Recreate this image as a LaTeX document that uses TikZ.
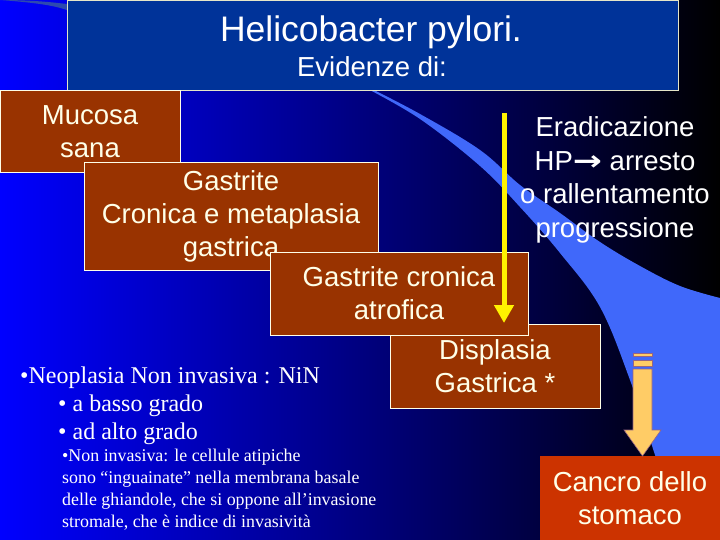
\documentclass[tikz,border=0pt]{standalone}
\usepackage{fontspec}
\setmainfont{Liberation Sans}
\newfontfamily\seriffont{Liberation Serif}
\newfontfamily\arrowfont{DejaVu Sans}
\usetikzlibrary{arrows.meta}
\definecolor{bgL}{RGB}{0,0,255}
\definecolor{bgM}{RGB}{0,0,205}
\definecolor{swoosh}{RGB}{64,104,250}
\definecolor{titlebg}{RGB}{0,51,153}
\definecolor{brown}{RGB}{153,51,0}
\definecolor{cancer}{RGB}{204,51,0}
\definecolor{cream}{RGB}{255,255,232}
\definecolor{orangearrow}{RGB}{255,204,102}
\definecolor{arrowedge}{RGB}{150,100,130}
\tikzset{
  box/.style={draw=cream, line width=1pt, fill=brown, text=cream, align=center, inner sep=0pt,
    font=\fontsize{27.5}{33}\selectfont},
  bigserif/.style={anchor=base west, inner sep=0pt, text=white, font=\seriffont\fontsize{24}{28}\selectfont},
  smallserif/.style={anchor=base west, inner sep=0pt, text=white, font=\seriffont\fontsize{17.9}{22}\selectfont},
}
\begin{document}
\begin{tikzpicture}[x=1pt,y=-1pt]
\useasboundingbox (0,0) rectangle (720,540);
% background
\shade[left color=bgL, middle color=bgM, right color=black] (0,0) rectangle (720,540);
% swoosh
\fill[swoosh!70!black] (0,0) .. controls (40,3) and (55,6) .. (67,10) -- (67,4) .. controls (50,2) and (30,0) .. (0,0) -- cycle;
\fill[swoosh] plot[smooth, tension=0.6] coordinates {(366,86) (420,114) (480,150) (520,185) (560,213) (600,242) (640,266) (680,286) (720,298)}
  -- (720,540) -- (682,540)
  -- plot[smooth, tension=0.6] coordinates {(682,540) (655,455) (630,380) (600,307) (560,253) (520,207) (480,166) (420,119) (366,88)} -- cycle;
% title box
\node[draw={rgb,255:red,230;green,230;blue,200}, line width=0.8pt, fill=titlebg, minimum width=611pt, minimum height=90pt, inner sep=0pt] (title) at (372.5,45) {};
\node[text=white, font=\fontsize{35.5}{40}\selectfont, anchor=base, inner sep=0pt] (t1) at (371,42) {Helicobacter pylori.};
\node[text=white, font=\fontsize{27.5}{30}\selectfont, anchor=base, inner sep=0pt] (t2) at (372,77) {Evidenze di:};
% boxes
\node[box, minimum width=180pt, minimum height=82pt] (mucosa) at (90,132) {Mucosa\\sana};
\node[box, minimum width=294pt, minimum height=107pt] (gastrite) at (231,216.5) {Gastrite\\Cronica e metaplasia\\gastrica};
\node[box, minimum width=210pt, minimum height=84pt] (displasia) at (495,366) {Displasia\\Gastrica *};
\node[box, minimum width=258pt, minimum height=83pt] (atrofica) at (399,293.5) {Gastrite cronica\\atrofica};
\node[box, draw=none, fill=cancer, minimum width=180pt, minimum height=84pt] (cancro) at (630,498) {Cancro dello\\stomaco};
% right text
\node[text=white, align=center, inner sep=0pt, font=\fontsize{27.5}{33.6}\selectfont] (erad) at (615,180) {Eradicazione\\HP{\arrowfont\bfseries\fontsize{24}{30}\selectfont\scalebox{1.45}[1.15]{→}} arresto\\o rallentamento\\progressione};
% yellow arrow
\coordinate (ya) at (504,113);
\coordinate (yb) at (504,323);
\draw[yellow, line width=5pt, -{Triangle[width=19pt,length=18pt]}] (ya) -- (yb);
% orange block arrow
\begin{scope}[fill=orangearrow, draw=arrowedge, line width=0.6pt]
\filldraw (633,353) rectangle (652,356.5);
\filldraw (633,360) rectangle (652,366);
\filldraw (633,369) -- (652,369) -- (652,430) -- (661,430) -- (642.5,456) -- (624,430) -- (633,430) -- cycle;
\end{scope}
% left text
\node[bigserif] (n1) at (20,383) {\textbullet Neoplasia Non invasiva : NiN};
\node[bigserif] (n2) at (58,411) {\textbullet\ a basso grado};
\node[bigserif] (n3) at (58,439) {\textbullet\ ad alto grado};
\node[smallserif] (s1) at (62,461) {\textbullet Non invasiva: le cellule atipiche};
\node[smallserif] (s2) at (62,483) {sono “inguainate” nella membrana basale};
\node[smallserif] (s3) at (62,505) {delle ghiandole, che si oppone all’invasione};
\node[smallserif] (s4) at (62,527) {stromale, che è indice di invasività};
\end{tikzpicture}
\end{document}
